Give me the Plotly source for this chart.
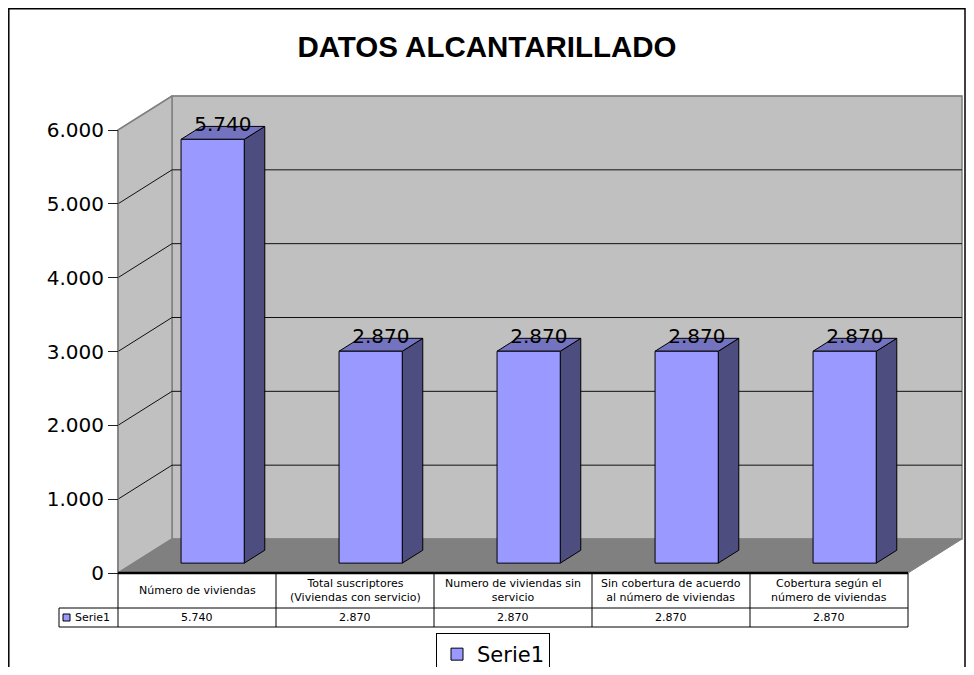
import plotly.graph_objects as go

# ---------------- data ----------------
title_text = "DATOS ALCANTARILLADO"
series_name = "Serie1"
categories = [
    "Número de viviendas",
    "Total suscriptores<br>(Viviendas con servicio)",
    "Numero de viviendas sin<br>servicio",
    "Sin cobertura de acuerdo<br>al número de viviendas",
    "Cobertura según el<br>número de viviendas",
]
values = [5740, 2870, 2870, 2870, 2870]
y_ticks = [0, 1000, 2000, 3000, 4000, 5000, 6000]
y_max = 6000

# ---------------- geometry / style ----------------
VIEW_W, VIEW_H = 974, 675
OFF = 8.0                        # page body margin (screen px -> figure px)
W, H = int(VIEW_W - 2 * OFF), int(VIEW_H - 2 * OFF)   # figure fits the window
CAT_PX = 158.0          # pixels per category on the front plane
X_LEFT_PX = 118.0       # screen pixel of the front-left corner (x = -0.5)
Y_ZERO_PX = 573.0       # screen pixel row of value 0 on the front plane
Y_TOP_PX = 130.0        # screen pixel row of y_max on the front plane
PPU = (Y_ZERO_PX - Y_TOP_PX) / y_max   # pixels per value unit

DEPTH_PX_X, DEPTH_PX_Y = 54.0, 34.0
DX = DEPTH_PX_X / CAT_PX
DY = DEPTH_PX_Y / PPU
F0, F1 = 0.29, 0.67     # bar depth (front, back) as fraction of floor depth
HW = 0.2                # bar half width in category units

def xpx(px):
    return -0.5 + (px - X_LEFT_PX) / CAT_PX

def ypx(py):
    return (Y_ZERO_PX - py) / PPU

def paper_x(px):
    return (px - OFF) / W

def paper_y(py):
    return 1 - (py - OFF) / H

def fmt(v):
    return f"{v:,}".replace(",", ".")

FONT = "DejaVu Sans"
BAR_FRONT = "#9999FF"
BAR_SIDE = "#4D4D80"
BAR_TOP = "#7373BF"
WALL = "#C0C0C0"
FLOOR = "#808080"

n = len(categories)
xl, xr = -0.5, n - 0.5

fig = go.Figure()

def poly(xs, ys, fill, line="black", width=1):
    fig.add_trace(go.Scatter(
        x=xs + [xs[0]], y=ys + [ys[0]], mode="lines", fill="toself",
        fillcolor=fill, line=dict(color=line, width=width),
        hoverinfo="skip", showlegend=False))

# walls and floor
poly([xl + DX, xr + DX, xr + DX, xl + DX], [DY, DY, y_max + DY, y_max + DY], WALL, line=FLOOR, width=1.5)
poly([xl, xl + DX, xl + DX, xl], [0, DY, y_max + DY, y_max], WALL, line=FLOOR, width=1.5)
poly([xl, xr, xr + DX, xl + DX], [0, 0, DY, DY], FLOOR, line=FLOOR, width=1)

# gridlines (side wall + back wall)
for t in y_ticks[1:]:
    lc = "#808080" if t == y_max else "#101010"
    fig.add_trace(go.Scatter(x=[xl, xl + DX, xr + DX], y=[t, t + DY, t + DY], mode="lines",
                             line=dict(color=lc, width=1), hoverinfo="skip", showlegend=False))

# front-left axis line
fig.add_trace(go.Scatter(x=[xl, xl], y=[0, y_max], mode="lines",
                         line=dict(color="#808080", width=1.5), hoverinfo="skip", showlegend=False))

# bars (3D)
for i, v in enumerate(values):
    a0, a1 = i - HW + F0 * DX, i + HW + F0 * DX
    b0, b1 = i - HW + F1 * DX, i + HW + F1 * DX
    y0f, y0b = F0 * DY, F1 * DY
    poly([a1, b1, b1, a1], [y0f, y0b, v + y0b, v + y0f], BAR_SIDE)
    poly([a0, a1, b1, b0], [v + y0f, v + y0f, v + y0b, v + y0b], BAR_TOP)
    poly([a0, a1, a1, a0], [y0f, y0f, v + y0f, v + y0f], BAR_FRONT)

# data labels
fig.add_trace(go.Scatter(
    x=[i + (F0 + F1) / 2 * DX for i in range(n)],
    y=[v + F1 * DY for v in values],
    mode="text", text=[fmt(v) for v in values], textposition="middle center",
    textfont=dict(family=FONT, size=20, color="black"),
    cliponaxis=False, hoverinfo="skip", showlegend=False))

# legend-only bar
fig.add_trace(go.Bar(x=[None], y=[None], name=series_name,
                     marker=dict(color=BAR_FRONT, line=dict(color="black", width=1))))

# ---------------- data table ----------------
row1, row2 = ypx(608), ypx(627)
key_left = xpx(59)
shapes = []
shapes.append(dict(type="line", x0=xl, x1=xr, y0=0, y1=0, line=dict(color="black", width=2.5)))
for k in range(n + 1):
    shapes.append(dict(type="line", x0=xl + k, x1=xl + k, y0=0, y1=row2, line=dict(color="black", width=1)))
shapes.append(dict(type="line", x0=key_left, x1=xr, y0=row1, y1=row1, line=dict(color="black", width=1)))
shapes.append(dict(type="line", x0=key_left, x1=xr, y0=row2, y1=row2, line=dict(color="black", width=1)))
shapes.append(dict(type="line", x0=key_left, x1=key_left, y0=row1, y1=row2, line=dict(color="black", width=1)))
shapes.append(dict(type="rect", x0=xpx(63), x1=xpx(70), y0=ypx(621), y1=ypx(614),
                   fillcolor=BAR_FRONT, line=dict(color="black", width=1)))
# outer chart border
shapes.append(dict(type="rect", xref="paper", yref="paper", x0=paper_x(8.8), x1=paper_x(OFF + W - 1),
                   y0=-0.2, y1=paper_y(8.8), line=dict(color="black", width=1.5)))

annotations = []
for i, c in enumerate(categories):
    annotations.append(dict(x=i, y=(0 + row1) / 2, text=c, showarrow=False,
                            font=dict(family=FONT, size=11, color="black"),
                            xanchor="center", yanchor="middle"))
    annotations.append(dict(x=i, y=(row1 + row2) / 2, text=fmt(values[i]), showarrow=False,
                            font=dict(family=FONT, size=11, color="black"),
                            xanchor="center", yanchor="middle"))
annotations.append(dict(x=xpx(73), y=(row1 + row2) / 2, text=series_name, showarrow=False,
                        font=dict(family=FONT, size=11, color="black"),
                        xanchor="left", yanchor="middle"))

fig.update_layout(
    width=W, height=H,
    margin=dict(l=0, r=0, t=0, b=0, pad=0, autoexpand=False),
    paper_bgcolor="white", plot_bgcolor="white",
    separators=",.",
    title=dict(text=f"<b>{title_text}</b>", x=paper_x(487), xanchor="center",
               y=paper_y(47), yanchor="middle",
               font=dict(family="Liberation Sans", size=29.5, color="black")),
    xaxis=dict(visible=False, range=[xpx(OFF), xpx(OFF + W)], fixedrange=True),
    yaxis=dict(range=[ypx(OFF + H), ypx(OFF)], anchor="free", position=paper_x(X_LEFT_PX),
               showgrid=False, zeroline=False, showline=False,
               tickvals=y_ticks, tickformat=",d", ticks="outside", ticklen=10,
               tickcolor="#202020", tickwidth=1,
               tickfont=dict(family=FONT, size=20, color="black"),
               automargin=False, fixedrange=True),
    showlegend=True,
    legend=dict(x=paper_x(436), xanchor="left", y=paper_y(633), yanchor="top",
                bordercolor="black", borderwidth=1, bgcolor="white",
                font=dict(family=FONT, size=21, color="black"),
                itemwidth=30),
    shapes=shapes, annotations=annotations,
)

fig.write_html("out.html")
